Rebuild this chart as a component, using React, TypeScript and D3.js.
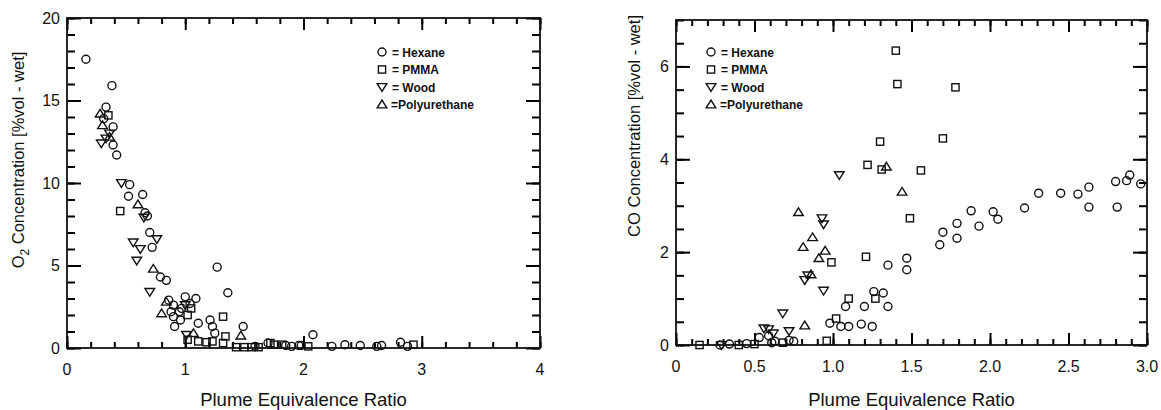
import React, { useEffect, useRef } from "react";
import * as d3 from "d3";

// ---------- DATA ----------
// O2 panel (x: plume equivalence ratio, y: O2 %vol-wet)
const o2Hexane: [number, number][] = [
  [0.16, 17.5], [0.38, 15.9], [0.33, 14.6], [0.39, 13.4], [0.39, 12.3], [0.42, 11.7], [0.31, 13.9],
  [0.53, 9.9], [0.52, 9.2], [0.64, 9.3], [0.66, 8.2], [0.68, 8.0], [0.70, 7.0], [0.72, 6.1],
  [0.79, 4.3], [0.84, 4.1], [1.27, 4.9], [1.36, 3.35], [0.90, 2.6], [1.00, 3.1], [1.09, 3.0],
  [0.95, 2.2], [0.90, 1.9], [0.96, 1.7], [0.91, 1.3], [0.88, 2.2], [1.11, 1.5], [1.21, 1.7],
  [1.23, 1.3], [1.25, 0.9], [1.49, 1.3], [1.70, 0.3], [1.85, 0.15], [1.96, 0.15], [1.59, 0.1],
  [1.90, 0.1], [1.98, 0.15], [2.08, 0.8], [2.24, 0.1], [2.35, 0.2], [2.48, 0.15], [2.62, 0.1],
  [2.66, 0.15], [2.82, 0.35], [2.88, 0.1], [0.86, 2.9], [1.04, 2.7], [0.97, 2.4],
];
const o2Pmma: [number, number][] = [
  [0.35, 14.1], [0.45, 8.3], [1.05, 2.4], [1.02, 2.0], [1.32, 1.9], [1.34, 0.7], [1.02, 0.5],
  [1.11, 0.4], [1.23, 0.4], [1.32, 0.3], [1.43, 0.05], [1.50, 0.05], [1.56, 0.05], [1.62, 0.05],
  [1.75, 0.2], [1.72, 0.3], [1.82, 0.2], [2.04, 0.1], [2.93, 0.2], [1.18, 0.35],
];
const o2Wood: [number, number][] = [
  [0.29, 12.4], [0.46, 10.0], [0.65, 7.9], [0.76, 6.6], [0.56, 6.4], [0.62, 6.0], [0.59, 5.3],
  [0.70, 3.4], [1.00, 2.6], [1.01, 0.8], [0.36, 13.0], [0.33, 12.7],
];
const o2Poly: [number, number][] = [
  [0.28, 14.2], [0.30, 13.5], [0.36, 12.8], [0.60, 8.7], [0.73, 4.8], [0.84, 2.8], [0.80, 2.1],
  [1.47, 0.75], [1.07, 0.9],
];

// CO panel
const coHexane: [number, number][] = [
  [0.28, 0.0], [0.34, 0.02], [0.45, 0.03], [0.53, 0.16], [0.59, 0.2], [0.61, 0.05], [0.63, 0.08],
  [0.72, 0.1], [0.75, 0.08], [1.08, 0.83], [1.26, 1.15], [1.32, 1.12], [1.20, 0.83], [1.35, 0.83],
  [0.98, 0.47], [1.05, 0.4], [1.10, 0.4], [1.18, 0.45], [1.25, 0.4], [1.35, 1.72], [1.47, 1.87],
  [1.47, 1.62], [1.68, 2.16], [1.70, 2.43], [1.79, 2.62], [1.79, 2.30], [1.88, 2.89], [1.93, 2.56],
  [2.02, 2.87], [2.05, 2.71], [2.22, 2.95], [2.31, 3.27], [2.45, 3.27], [2.56, 3.25], [2.63, 3.40],
  [2.63, 2.97], [2.80, 3.52], [2.81, 2.97], [2.87, 3.54], [2.89, 3.66], [2.96, 3.47],
];
const coPmma: [number, number][] = [
  [1.40, 6.34], [1.41, 5.62], [1.30, 4.38], [1.22, 3.88], [1.31, 3.78], [1.78, 5.55], [1.70, 4.45],
  [1.56, 3.76], [1.49, 2.73], [0.99, 1.78], [1.21, 1.90], [1.10, 1.0], [1.27, 1.0], [1.02, 0.57],
  [0.96, 0.09], [0.15, 0.0], [0.40, 0.0], [0.50, 0.02], [0.68, 0.05],
];
const coWood: [number, number][] = [
  [1.04, 3.66], [0.93, 2.73], [0.94, 2.60], [0.82, 1.40], [0.94, 1.17], [0.68, 0.68], [0.59, 0.34],
  [0.56, 0.36], [0.72, 0.3], [0.29, 0.0], [0.62, 0.25], [0.84, 1.5],
];
const coPoly: [number, number][] = [
  [1.34, 3.84], [1.44, 3.30], [0.78, 2.86], [0.87, 2.32], [0.81, 2.11], [0.95, 2.03], [0.91, 1.87],
  [0.86, 1.52], [0.82, 0.42],
];

const legendLabels = ["= Hexane", "= PMMA", "= Wood", "=Polyurethane"];
const o2XTicks = [0, 1, 2, 3, 4];
const o2YTicks = [0, 5, 10, 15, 20];
const coXTicks = [0, 0.5, 1.0, 1.5, 2.0, 2.5, 3.0];
const coYTicks = [0, 2, 4, 6];

// ---------- DRAWING ----------
type Shape = "circle" | "square" | "down" | "up";
const FONT = "'Liberation Sans', Arial, Helvetica, sans-serif";
const INK = "#111";

function Marker({ x, y, shape }: { x: number; y: number; shape: Shape }) {
  const common = { fill: "none", stroke: INK, strokeWidth: 1.4 };
  if (shape === "circle") return <circle cx={x} cy={y} r={4} {...common} />;
  if (shape === "square") return <rect x={x - 3.6} y={y - 3.6} width={7.2} height={7.2} {...common} />;
  const s = 4.8;
  if (shape === "down")
    return <path d={`M${x - s},${y - s * 0.7}L${x + s},${y - s * 0.7}L${x},${y + s * 0.9}Z`} {...common} />;
  return <path d={`M${x - s},${y + s * 0.7}L${x + s},${y + s * 0.7}L${x},${y - s * 0.9}Z`} {...common} />;
}

interface PanelProps {
  x0: number; x1: number; yTop: number; yBot: number;
  xMax: number; yMax: number;
  xMinorStep: number; xMajor: number[]; xFmt: (v: number) => string;
  yMinorStep: number; yMajor: number[];
  series: { data: [number, number][]; shape: Shape }[];
  legendX: number; legendY: number;
  yTitle: React.ReactNode; yTitleX: number; yTitleY: number;
}

function Panel(p: PanelProps) {
  const axRef = useRef<SVGGElement>(null);
  const xs = d3.scaleLinear().domain([0, p.xMax]).range([p.x0, p.x1]);
  const ys = d3.scaleLinear().domain([0, p.yMax]).range([p.yBot, p.yTop]);
  const shapes: Shape[] = ["circle", "square", "down", "up"];

  useEffect(() => {
    if (!axRef.current) return;
    const g = d3.select(axRef.current);
    g.selectAll("*").remove();
    const xMinor = xs.ticks(Math.round(p.xMax / p.xMinorStep));
    const yMinor = ys.ticks(Math.round(p.yMax / p.yMinorStep));
    const none = () => "";
    // bottom & top: minor then major
    const addX = (vals: number[], len: number) => {
      g.append("g").attr("transform", `translate(0,${p.yBot})`)
        .call(d3.axisBottom(xs).tickValues(vals).tickSize(-len).tickFormat(none as any));
      g.append("g").attr("transform", `translate(0,${p.yTop})`)
        .call(d3.axisTop(xs).tickValues(vals).tickSize(-len).tickFormat(none as any));
    };
    const addY = (vals: number[], len: number) => {
      g.append("g").attr("transform", `translate(${p.x0},0)`)
        .call(d3.axisLeft(ys).tickValues(vals).tickSize(-len).tickFormat(none as any));
      g.append("g").attr("transform", `translate(${p.x1},0)`)
        .call(d3.axisRight(ys).tickValues(vals).tickSize(-len).tickFormat(none as any));
    };
    addX(xMinor, 6);
    addX(p.xMajor, 12);
    addY(yMinor, 8);
    addY(p.yMajor, 14);
    g.selectAll(".domain").remove();
    g.selectAll(".tick line").attr("stroke", "#000").attr("stroke-width", 2);
  });

  return (
    <g>
      <g ref={axRef} />
      <rect x={p.x0} y={p.yTop} width={p.x1 - p.x0} height={p.yBot - p.yTop} fill="none" stroke={INK} strokeWidth={1.8} />
      {p.xMajor.map((v, i) => (
        <text key={"xl" + i} x={xs(v)} y={p.yBot + 27} textAnchor="middle" fontFamily={FONT} fontSize={16} fill={INK}>
          {p.xFmt(v)}
        </text>
      ))}
      {p.yMajor.map((v, i) => (
        <text key={"yl" + i} x={p.x0 - 7} y={ys(v) + 5.5} textAnchor="end" fontFamily={FONT} fontSize={16} fill={INK}>
          {v}
        </text>
      ))}
      <text x={(p.x0 + p.x1) / 2} y={406} textAnchor="middle" fontFamily={FONT} fontSize={18.5} fill={INK}>
        Plume Equivalence Ratio
      </text>
      <text transform={`translate(${p.yTitleX},${p.yTitleY}) rotate(-90)`} textAnchor="middle" fontFamily={FONT} fontSize={16.5} fill={INK}>
        {p.yTitle}
      </text>
      {p.series.map((s, si) =>
        s.data.map((d, i) => <Marker key={si + "-" + i} x={xs(d[0])} y={ys(d[1])} shape={s.shape} />)
      )}
      {legendLabels.map((lab, i) => (
        <g key={"lg" + i}>
          <Marker x={p.legendX} y={p.legendY + i * 17.5} shape={shapes[i]} />
          <text x={p.legendX + (i === 3 ? 9 : 10)} y={p.legendY + i * 17.5 + 4.5} fontFamily={FONT} fontSize={12} fontWeight="bold" fill={INK}>
            {lab}
          </text>
        </g>
      ))}
    </g>
  );
}

export default function App() {
  return (
    <svg width={1161} height={410} style={{ position: "absolute", left: 0, top: 0, background: "#fff" }}>
      <rect width={1161} height={410} fill="#fff" />
      <Panel
        x0={67} x1={540} yTop={18} yBot={348} xMax={4} yMax={20}
        xMinorStep={0.2} xMajor={o2XTicks} xFmt={(v) => String(v)}
        yMinorStep={1} yMajor={o2YTicks}
        series={[
          { data: o2Hexane, shape: "circle" },
          { data: o2Pmma, shape: "square" },
          { data: o2Wood, shape: "down" },
          { data: o2Poly, shape: "up" },
        ]}
        legendX={382} legendY={52}
        yTitle={<>O<tspan dy={5} fontSize={12}>2</tspan><tspan dy={-5}> Concentration [%vol - wet]</tspan></>}
        yTitleX={24} yTitleY={160}
      />
      <Panel
        x0={676} x1={1147} yTop={20} yBot={345} xMax={3} yMax={7}
        xMinorStep={0.1} xMajor={coXTicks} xFmt={(v) => (v === 0 ? "0" : v.toFixed(1))}
        yMinorStep={0.5} yMajor={coYTicks}
        series={[
          { data: coHexane, shape: "circle" },
          { data: coPmma, shape: "square" },
          { data: coWood, shape: "down" },
          { data: coPoly, shape: "up" },
        ]}
        legendX={711} legendY={52}
        yTitle={"CO Concentration [%vol  -  wet]"}
        yTitleX={640} yTitleY={126}
      />
    </svg>
  );
}
